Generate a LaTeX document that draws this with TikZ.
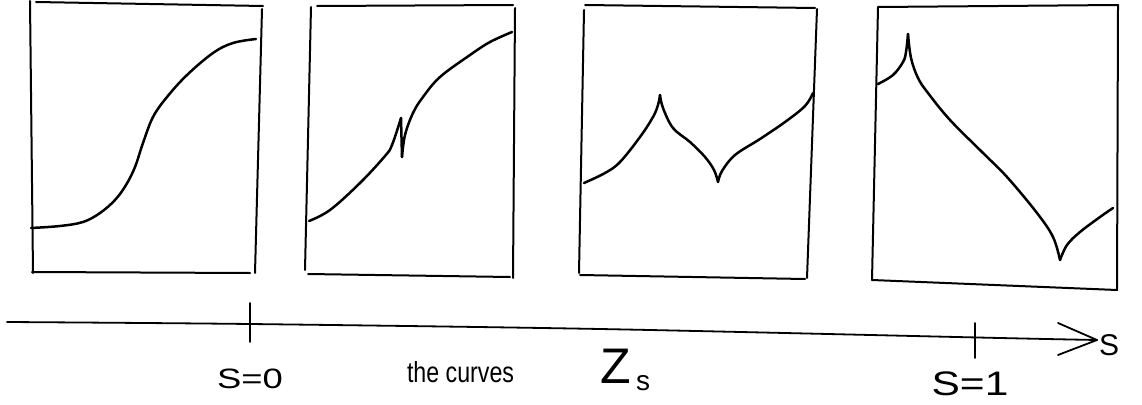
\documentclass[tikz,border=0pt]{standalone}
\usepackage{fontspec}
\setmainfont{Liberation Sans}
\newcommand\fsz[1]{\fontsize{#1}{#1}\selectfont}
\tikzset{
  frame/.style={line width=2pt, line cap=round, line join=round},
  curve/.style={line width=2.5pt, line cap=round, line join=round},
  axisline/.style={line width=1.8pt, line cap=round, line join=round},
  lbl/.style={inner sep=0pt, outer sep=0pt}
}
\begin{document}
\begin{tikzpicture}[x=1pt,y=-1pt]
\useasboundingbox (0,0) rectangle (1142,404);
% ---- frames ----
\draw[frame] (36,2) -- (263,6);
\draw[frame] (30,1) -- (33,273);
\draw[frame] (32,272) -- (250,273);
\draw[frame] (262,9) -- (255,273);

\draw[frame] (317,6) -- (513,5);
\draw[frame] (311,7) -- (305,270);
\draw[frame] (308,274) -- (510,277);
\draw[frame] (515,8) -- (513,278);

\draw[frame] (585,5) -- (815,8);
\draw[frame] (584,10) -- (579,273);
\draw[frame] (580,275) -- (805,279);
\draw[frame] (817,9) -- (807,278);

\draw[frame] (878,7) -- (1118,5);
\draw[frame] (878,7) -- (872,280);
\draw[frame] (872,280) -- (1117,290);
\draw[frame] (1118,5) -- (1117,290);
% ---- curves ----
\draw[curve] plot[smooth,tension=0.6] coordinates {(31,228) (60,226) (83,222) (100,213) (115,200) (126,185) (135,167) (143,143) (153,117) (167,97) (187,75) (213,53) (233,43) (256,39)};

\draw[curve] plot[smooth,tension=0.6] coordinates {(309,221) (330,210) (360,183) (385,156) (392,145) (401,118)};
\draw[curve] (401,118) -- (402,157);
\draw[curve] plot[smooth,tension=0.6] coordinates {(402,157) (405,135) (413,113) (423,97) (440,77) (470,55) (490,42) (512,32)};

\draw[curve] plot[smooth,tension=0.6] coordinates {(584,183) (605,173) (620,162) (640,137) (653,117) (658,105) (660,95)};
\draw[curve] plot[smooth,tension=0.6] coordinates {(660,95) (663,108) (673,128) (690,142) (705,157) (714,170) (718,182)};
\draw[curve] plot[smooth,tension=0.6] coordinates {(718,182) (722,171) (735,155) (760,139) (785,122) (805,106) (813,93)};

\draw[curve] plot[smooth,tension=0.6] coordinates {(878,84) (893,75) (903,62) (906,52) (908,34)};
\draw[curve] plot[smooth,tension=0.6] coordinates {(908,34) (911,58) (918,78) (928,93) (950,120) (983,153) (1007,177) (1037,213) (1053,237) (1060,260)};
\draw[curve] plot[smooth,tension=0.6] coordinates {(1060,260) (1067,245) (1080,232) (1100,217) (1113,208)};
% ---- axis ----
\coordinate (a0) at (7,322);
\coordinate (tip) at (1097,340);
\draw[axisline] plot[smooth,tension=0.5] coordinates {(a0) (250,324) (600,329) (1000,338) (tip)};
\coordinate (h1) at (1058,323);
\coordinate (h2) at (1058,355);
\draw[axisline] (h1) -- (tip) -- (h2);
\coordinate (t0a) at (250,303);
\coordinate (t0b) at (250,342);
\draw[axisline] (t0a) -- (t0b);
\coordinate (t1a) at (975,323);
\coordinate (t1b) at (975,358);
\draw[axisline] (t1a) -- (t1b);
% ---- labels ----
\node[lbl, anchor=base] (s0) at (250,388) {\fsz{28}\scalebox{1.3}[1]{S=0}};
\node[lbl, anchor=base] (s1) at (970,395) {\fsz{34}\scalebox{1.25}[1]{S=1}};
\node[lbl, anchor=base west] (sax) at (1099,355) {\fsz{30}S};
\node[lbl, anchor=base west] (cap) at (407,382) {\fsz{29}\scalebox{0.8}[1]{the curves}};
\node[lbl, anchor=base west] (zz) at (600,383) {\fsz{50}Z};
\node[lbl, anchor=base west] (zs) at (636,390) {\fsz{28}s};
\end{tikzpicture}
\end{document}
